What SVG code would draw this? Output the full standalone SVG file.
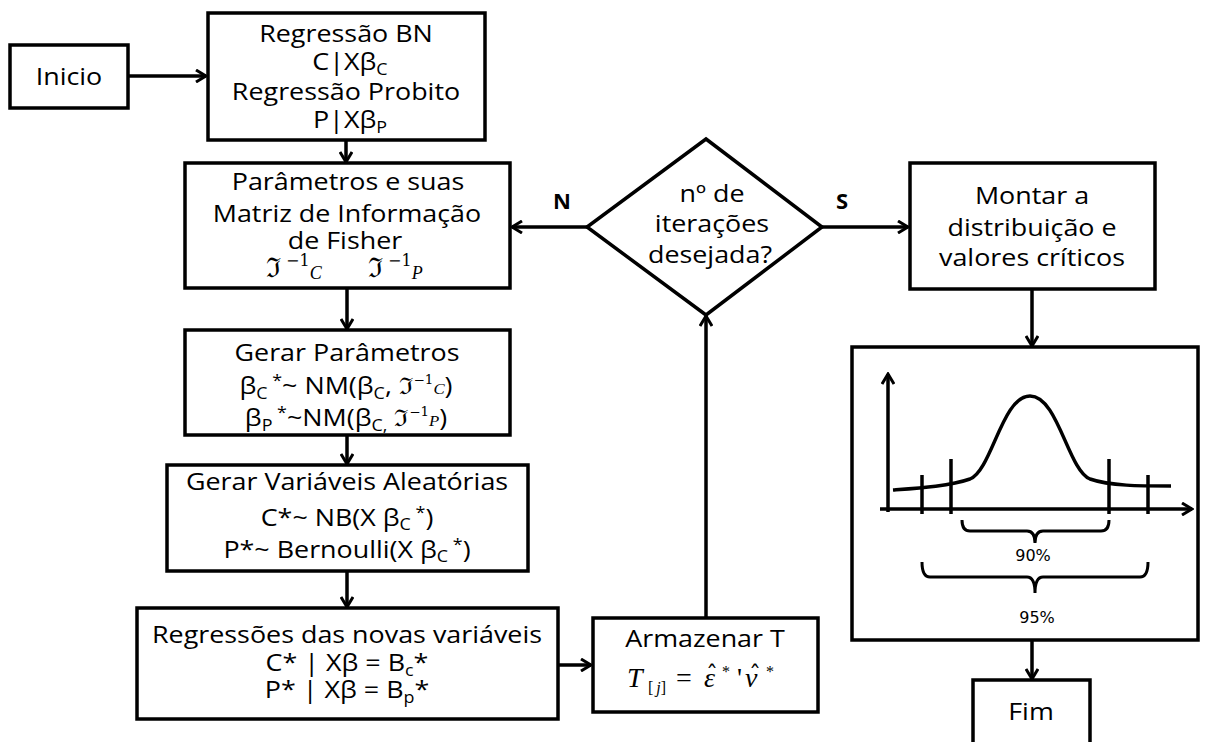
<svg xmlns="http://www.w3.org/2000/svg" width="1213" height="742" viewBox="0 0 1213 742">
<defs>
<style>
.box{fill:#fff;stroke:#000;stroke-width:3.5}
.ln{fill:none;stroke:#000;stroke-width:3.5}
.thin{fill:none;stroke:#000;stroke-width:3}
.t{font-family:'Open Sans','DejaVu Sans',sans-serif;font-size:24px;text-anchor:middle;fill:#000}
.s{font-size:16px}
.m{font-family:'Liberation Serif','DejaVu Serif',serif;font-style:italic}
.ms{font-family:'DejaVu Serif','Liberation Serif',serif;font-style:normal}
.lbl{font-family:'Open Sans','DejaVu Sans',sans-serif;font-size:22px;font-weight:bold;text-anchor:middle}
.pct{font-family:'DejaVu Sans',sans-serif;font-size:16px;text-anchor:middle}
</style>
<marker id="ah" viewBox="0 0 14 14" refX="12" refY="7" markerWidth="14" markerHeight="14" markerUnits="userSpaceOnUse" orient="auto">
<path d="M2,1 L12,7 L2,13" fill="none" stroke="#000" stroke-width="3"/>
</marker>
</defs>

<g id="connectors">
<line class="ln" x1="128" y1="76" x2="206" y2="76" marker-end="url(#ah)"/>
<line class="ln" x1="346" y1="140" x2="346" y2="162" marker-end="url(#ah)"/>
<line class="ln" x1="347" y1="288" x2="347" y2="329" marker-end="url(#ah)"/>
<line class="ln" x1="347" y1="435" x2="347" y2="464" marker-end="url(#ah)"/>
<line class="ln" x1="347" y1="571" x2="347" y2="607" marker-end="url(#ah)"/>
<line class="ln" x1="558" y1="665" x2="591" y2="665" marker-end="url(#ah)"/>
<line class="ln" x1="706" y1="618" x2="706" y2="316" marker-end="url(#ah)"/>
<line class="ln" x1="587" y1="227" x2="512" y2="227" marker-end="url(#ah)"/>
<line class="ln" x1="822" y1="227" x2="908" y2="227" marker-end="url(#ah)"/>
<line class="ln" x1="1032" y1="289" x2="1032" y2="346" marker-end="url(#ah)"/>
<line class="ln" x1="1032" y1="640" x2="1032" y2="679" marker-end="url(#ah)"/>
<text class="lbl" x="562" y="209">N</text>
<text class="lbl" x="842" y="209">S</text>
</g>

<g id="inicio">
<rect class="box" x="10" y="45" width="118" height="63"/>
<text class="t" transform="translate(69 85) scale(1.12 1)">Inicio</text>
</g>

<g id="regressao">
<rect class="box" x="208" y="13" width="277" height="127"/>
<text class="t" transform="translate(346 42) scale(1.12 1)">Regressão BN</text>
<text class="t" transform="translate(350 70) scale(1.12 1)">C|Xβ<tspan class="s" dy="5">C</tspan></text>
<text class="t" transform="translate(346 100) scale(1.12 1)">Regressão Probito</text>
<text class="t" transform="translate(350 128) scale(1.12 1)">P|Xβ<tspan class="s" dy="5">P</tspan></text>
</g>

<g id="parametros">
<rect class="box" x="185" y="163" width="325" height="125"/>
<text class="t" transform="translate(348 190) scale(1.12 1)">Parâmetros e suas</text>
<text class="t" transform="translate(347 222) scale(1.12 1)">Matriz de Informação</text>
<text class="t" transform="translate(345 249) scale(1.12 1)">de Fisher</text>
<text x="266" y="277" font-size="27"><tspan class="ms">ℑ</tspan><tspan class="ms" font-size="16" dy="-11"> −1</tspan><tspan class="m" font-size="18" dy="13">C</tspan></text>
<text x="368" y="277" font-size="27"><tspan class="ms">ℑ</tspan><tspan class="ms" font-size="16" dy="-11"> −1</tspan><tspan class="m" font-size="18" dy="13">P</tspan></text>
</g>

<g id="gerar-parametros">
<rect class="box" x="185" y="330" width="325" height="105"/>
<text class="t" transform="translate(347 361) scale(1.12 1)">Gerar Parâmetros</text>
<text class="t" transform="translate(346 394) scale(1.12 1)">β<tspan class="s" dy="5">C</tspan><tspan class="s" dy="-13"> *</tspan><tspan dy="8">~ NM(β</tspan><tspan class="s" dy="5">C</tspan><tspan dy="-5">, </tspan><tspan class="ms" font-size="23">ℑ</tspan><tspan class="ms" font-size="12" dy="-10">−1</tspan><tspan class="m" font-size="15" dy="10">C</tspan><tspan>)</tspan></text>
<text class="t" transform="translate(346 426) scale(1.12 1)">β<tspan class="s" dy="5">P</tspan><tspan class="s" dy="-13">  *</tspan><tspan dy="8">~NM(β</tspan><tspan class="s" dy="5">C,</tspan><tspan dy="-5"> </tspan><tspan class="ms" font-size="23">ℑ</tspan><tspan class="ms" font-size="12" dy="-10">−1</tspan><tspan class="m" font-size="15" dy="10">P</tspan><tspan>)</tspan></text>
</g>

<g id="gerar-variaveis">
<rect class="box" x="167" y="465" width="361" height="106"/>
<text class="t" transform="translate(347 490) scale(1.12 1)">Gerar  Variáveis Aleatórias</text>
<text class="t" transform="translate(347 526) scale(1.12 1)">C*~ NB(X β<tspan class="s" dy="4">C</tspan><tspan class="s" dy="-12"> *</tspan><tspan dy="8">)</tspan></text>
<text class="t" transform="translate(347 558) scale(1.12 1)">P*~ Bernoulli(X β<tspan class="s" dy="4">C</tspan><tspan class="s" dy="-12"> *</tspan><tspan dy="8">)</tspan></text>
</g>

<g id="regressoes-novas">
<rect class="box" x="137" y="608" width="421" height="111"/>
<text class="t" transform="translate(347 643) scale(1.12 1)">Regressões das novas variáveis</text>
<text class="t" transform="translate(347 671) scale(1.12 1)">C* | Xβ  = B<tspan class="s" dy="5">c</tspan><tspan dy="-5">*</tspan></text>
<text class="t" transform="translate(347 698) scale(1.12 1)">P* | Xβ = B<tspan class="s" dy="5">p</tspan><tspan dy="-5">*</tspan></text>
</g>

<g id="armazenar">
<rect class="box" x="593" y="618" width="225" height="94"/>
<text class="t" transform="translate(705 647) scale(1.12 1)">Armazenar T</text>
<text class="m" font-size="28"><tspan x="627" y="687">T</tspan><tspan x="648" y="693" font-size="16" font-style="normal">[</tspan><tspan font-size="16" dx="3">j</tspan><tspan font-size="16" font-style="normal">]</tspan><tspan x="676" y="687" font-style="normal">=</tspan><tspan x="704" y="687">ε</tspan><tspan class="ms" x="706" y="683" font-size="24">ˆ</tspan><tspan x="722" y="677" font-size="16" font-style="normal">*</tspan><tspan x="737" y="687" font-style="normal">'</tspan><tspan x="745" y="687">ν</tspan><tspan class="ms" x="749" y="683" font-size="24">ˆ</tspan><tspan x="766" y="677" font-size="16" font-style="normal">*</tspan></text>
</g>

<g id="decisao">
<polygon class="box" points="706,139 822,227 706,315 587,227"/>
<text class="t" transform="translate(712 202) scale(1.12 1)">nº de</text>
<text class="t" transform="translate(712 232) scale(1.12 1)">iterações</text>
<text class="t" transform="translate(710 263) scale(1.12 1)">desejada?</text>
</g>

<g id="montar">
<rect class="box" x="910" y="163" width="245" height="126"/>
<text class="t" transform="translate(1032 204) scale(1.12 1)">Montar a</text>
<text class="t" transform="translate(1032 236) scale(1.12 1)">distribuição e</text>
<text class="t" transform="translate(1032 266) scale(1.12 1)">valores críticos</text>
</g>

<g id="distribuicao">
<rect class="box" x="852" y="347" width="346" height="293"/>
<line class="ln" x1="888" y1="512" x2="888" y2="374" marker-end="url(#ah)"/>
<line class="ln" x1="880" y1="509" x2="1192" y2="509" marker-end="url(#ah)"/>
<line class="ln" x1="922" y1="475" x2="922" y2="514"/>
<line class="ln" x1="951" y1="459" x2="951" y2="514"/>
<line class="ln" x1="1109" y1="459" x2="1109" y2="514"/>
<line class="ln" x1="1148" y1="475" x2="1148" y2="514"/>
<path class="ln" d="M893,490 C920,488 950,486 970,479 C992,470 1002,396 1030,396 C1058,396 1068,470 1090,479 C1110,486 1140,486 1171,486"/>
<path class="thin" d="M962,520 Q962,531 970,531 L1027,531 Q1035,531 1035,543 Q1035,531 1043,531 L1101,531 Q1109,531 1109,520"/>
<path class="thin" d="M922,562 Q922,577 930,577 L1027,577 Q1035,577 1035,593 Q1035,577 1043,577 L1140,577 Q1148,577 1148,562"/>
<text class="pct" x="1033" y="561">90%</text>
<text class="pct" x="1037" y="623">95%</text>
</g>

<g id="fim">
<rect class="box" x="973" y="680" width="117" height="70"/>
<text class="t" transform="translate(1031 720) scale(1.12 1)">Fim</text>
</g>
</svg>
